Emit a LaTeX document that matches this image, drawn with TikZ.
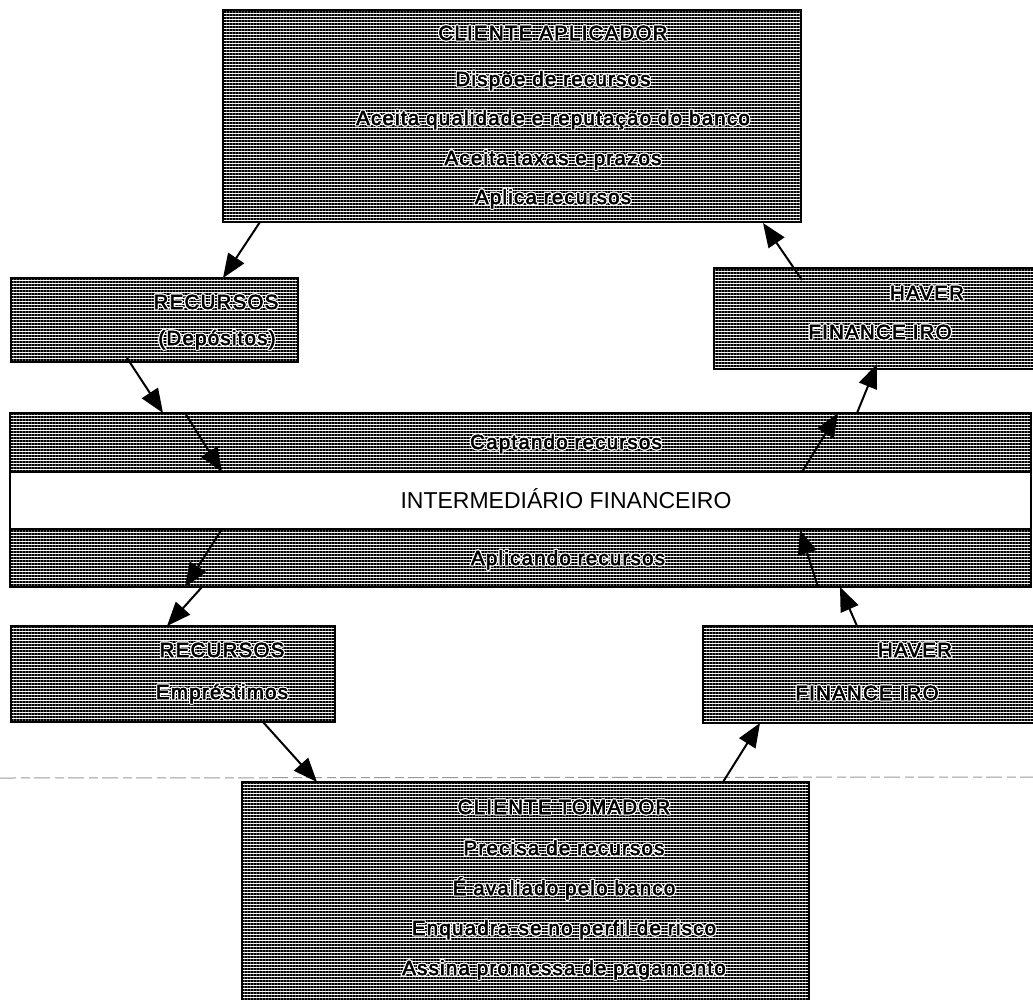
\documentclass[tikz,border=0pt]{standalone}
\usepackage{fontspec}
\setmainfont{Liberation Sans}
\newfontfamily\lblfont[LetterSpace=6,FakeBold=3]{Liberation Sans}
\usetikzlibrary{arrows.meta,patterns.meta,calc}

% white outline around label text, made of offset white copies
\newlength\haloA \setlength\haloA{1.15pt}
\newlength\haloB \setlength\haloB{0.8pt}
\newcommand\halo[1]{\setbox0=\hbox{#1}\leavevmode
  {\color{white}%
   \rlap{\kern-\haloA\copy0}\rlap{\kern\haloA\copy0}%
   \rlap{\raise\haloA\copy0}\rlap{\lower\haloA\copy0}%
   \rlap{\kern-\haloB\raise\haloB\copy0}\rlap{\kern\haloB\raise\haloB\copy0}%
   \rlap{\kern-\haloB\lower\haloB\copy0}\rlap{\kern\haloB\lower\haloB\copy0}}%
  \box0}

\begin{document}
\begin{tikzpicture}[x=1pt,y=-1pt,
  hatch/.style={draw=black, line width=2.2pt, outer sep=0pt, anchor=north west,
    pattern={Lines[angle=0,distance=3pt,line width=1.5pt]}, pattern color=black},
  plain/.style={draw=black, line width=2.2pt, outer sep=0pt, anchor=north west, fill=white},
  lbl/.style={font=\lblfont\fontsize{20.5}{24}\selectfont, inner sep=0pt, anchor=base},
  title/.style={font=\fontsize{23}{26}\selectfont, inner sep=0pt, anchor=base},
  flow/.style={line width=2pt, -{Triangle[length=24pt,width=19pt]}}]

\useasboundingbox (0,0) rectangle (1033,999);
\clip (0,0) rectangle (1033,999);

% faint dashed rule across the lower part
\coordinate (ruleL) at (0,778);
\coordinate (ruleR) at (1033,777);
\draw[black!40, line width=1pt, dash pattern=on 16pt off 5pt on 9pt off 4pt] (ruleL) -- (ruleR);

% boxes
\node[hatch, minimum width=578pt, minimum height=212pt] (ca) at (223,10) {};
\node[hatch, minimum width=287pt, minimum height=84pt]  (rd) at (11,278) {};
\node[hatch, minimum width=330pt, minimum height=101pt] (hv1) at (714,268) {};
\node[hatch, minimum width=1021pt, minimum height=59pt] (bandtop) at (10,413) {};
\node[plain, minimum width=1021pt, minimum height=57pt] (bandmid) at (10,472) {};
\node[hatch, minimum width=1021pt, minimum height=58pt] (bandbot) at (10,529) {};
\node[hatch, minimum width=324pt, minimum height=96pt]  (re) at (11,626) {};
\node[hatch, minimum width=340pt, minimum height=97pt]  (hv2) at (703,626) {};
\node[hatch, minimum width=567pt, minimum height=230pt] (ct) at (242,782) {};

% texts
\node[lbl] (ca1) at (553,40)  {\halo{CLIENTE APLICADOR}};
\node[lbl] (ca2) at (553,86)  {\halo{Dispõe de recursos}};
\node[lbl] (ca3) at (553,125) {\halo{Aceita qualidade e reputação do banco}};
\node[lbl] (ca4) at (553,165) {\halo{Aceita taxas e prazos}};
\node[lbl] (ca5) at (553,204) {\halo{Aplica recursos}};

\node[lbl] (rd1) at (216,309) {\halo{RECURSOS}};
\node[lbl] (rd2) at (217,345) {\halo{(Depósitos)}};

\node[lbl] (hv1a) at (927,300) {\halo{HAVER}};
\node[lbl] (hv1b) at (880,339) {\halo{FINANCE IRO}};

\node[lbl] (cap) at (566,449) {\halo{Captando recursos}};
\node[title] (inter) at (566,508) {INTERMEDIÁRIO FINANCEIRO};
\node[lbl] (apl) at (568,565) {\halo{Aplicando recursos}};

\node[lbl] (re1) at (222,657) {\halo{RECURSOS}};
\node[lbl] (re2) at (222,699) {\halo{Empréstimos}};

\node[lbl] (hv2a) at (915,657) {\halo{HAVER}};
\node[lbl] (hv2b) at (867,700) {\halo{FINANCE IRO}};

\node[lbl] (ct1) at (564,814) {\halo{CLIENTE TOMADOR}};
\node[lbl] (ct2) at (564,855) {\halo{Precisa de recursos}};
\node[lbl] (ct3) at (564,895) {\halo{É avaliado pelo banco}};
\node[lbl] (ct4) at (564,935) {\halo{Enquadra-se no perfil de risco}};
\node[lbl] (ct5) at (564,975) {\halo{Assina promessa de pagamento}};

% flow of funds on the left
\draw[flow] ($(ca.south west)+(37,0)$) -- ($(rd.north west)+(212,0)$);
\draw[flow] ($(rd.south west)+(116,-4)$) -- ($(bandtop.north west)+(153,0)$);
\draw[flow] ($(bandtop.north west)+(175,0)$) -- ($(bandmid.north west)+(212,0)$);
\draw[flow] ($(bandmid.south west)+(212,0)$) -- ($(bandbot.south west)+(175,0)$);
\draw[flow] ($(bandbot.south west)+(192,0)$) -- ($(re.north west)+(156,0)$);
\draw[flow] ($(re.south west)+(252,0)$) -- ($(ct.north west)+(75,0)$);

% flow of claims on the right
\draw[flow] ($(ct.north west)+(481,0)$) -- ($(hv2.south west)+(57,0)$);
\draw[flow] ($(hv2.north west)+(154,0)$) -- ($(bandbot.south west)+(830,0)$);
\draw[flow] ($(bandbot.south west)+(808,0)$) -- ($(bandmid.south west)+(790,1)$);
\draw[flow] ($(bandmid.north west)+(792,0)$) -- ($(bandtop.north west)+(828,0)$);
\draw[flow] ($(bandtop.north west)+(847,0)$) -- ($(hv1.south west)+(163,-5)$);
\draw[flow] ($(hv1.north west)+(88,12)$) -- ($(ca.south east)+(-38,1)$);
\end{tikzpicture}
\end{document}
